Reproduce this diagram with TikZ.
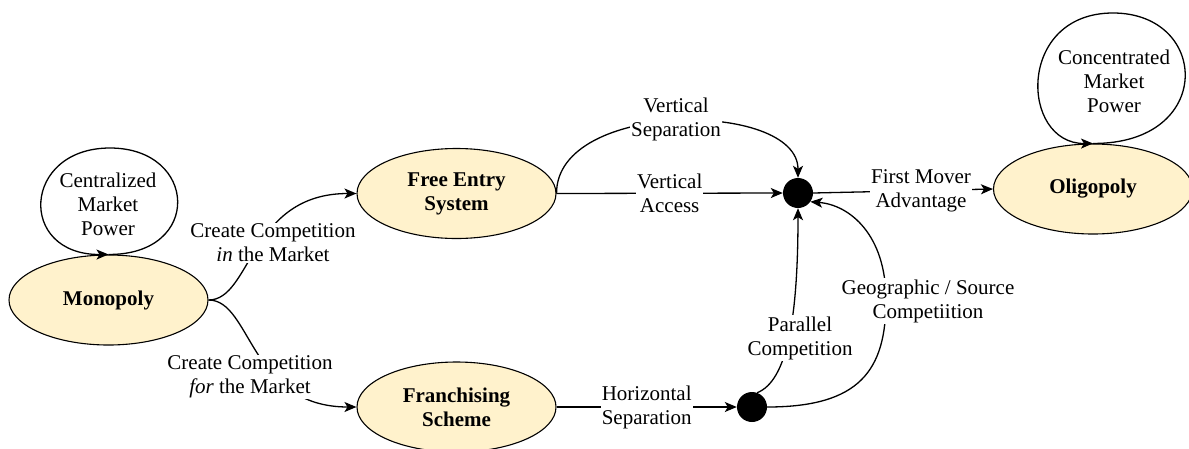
\documentclass[tikz,border=0pt]{standalone}
\usepackage{fontspec}
\setmainfont{Liberation Serif}
\usetikzlibrary{shapes.geometric,arrows.meta}
\definecolor{statefill}{HTML}{FFF2CC}
\tikzset{
  state/.style={ellipse, draw, line width=1.1pt, fill=statefill, minimum width=199pt,
    minimum height=90pt, inner sep=0pt, align=center, font=\fontsize{21}{24}\selectfont\bfseries},
  hub/.style={circle, fill=black, minimum size=30pt, inner sep=0pt},
  lbl/.style={fill=white, inner sep=1pt, align=center},
  note/.style={inner sep=0pt, align=center},
  arr/.style={-{Stealth[length=12pt,width=10pt,inset=3pt]}, line width=1.3pt},
}
\begin{document}
\begin{tikzpicture}[x=1pt, y=-1pt, font=\fontsize{21}{24}\selectfont]
\useasboundingbox (0,0) rectangle (1189,448);

% market structures
\node[state] (mono) at (108.5,300) {Monopoly};
\node[state] (free) at (456.5,193.5) {Free Entry\\System};
\node[state] (fran) at (456.5,407) {Franchising\\Scheme};
\node[state] (oli) at (1093,189) {Oligopoly};

% junction points
\node[hub] (d1) at (798,193) {};
\node[hub] (d2) at (752,407) {};

% self loops
\draw[arr] (mono.north) .. controls (203,255) and (198,148) .. (110,148)
  .. controls (22,148) and (17,255) .. (mono.north);
\node[note] (cmp) at (108,204) {Centralized\\Market\\Power};

\draw[arr] (oli.north) .. controls (1215,144) and (1210,13) .. (1113,13)
  .. controls (1016,13) and (1020,144) .. (oli.north);
\node[note] (kmp) at (1114,81) {Concentrated\\Market\\Power};

% competition branches
\draw[arr] (mono.east) .. controls +(43,0) and +(-107,0) .. (free.west);
\draw[arr] (mono.east) .. controls +(43,0) and +(-107,0) .. (fran.west);

% separation and access
\draw[arr] (free.east) .. controls (556,100) and (798,100) .. (d1.north);
\draw[arr] (free.east) -- node[lbl] (va) {Vertical\\Access} (d1.west);
\draw[arr] (fran.east) -- node[lbl] (hs) {Horizontal\\Separation} (d2.west);

% from the lower junction to the upper one
\draw[arr] (d2.70) .. controls +(30,-12) and +(0,110) .. (d1.south);
\coordinate (gs) at (886,300);
\draw[arr] (d2.east) .. controls (860,407) and (886,370) .. (gs)
  .. controls (886,235) and (850,205) .. (d1.-35);

\draw[arr] (d1.east) -- node[lbl, pos=0.6] (fm) {First Mover\\Advantage} (oli.west);

% edge labels
\node[lbl] (cin) at (273,243) {Create Competition\\\textit{in} the Market};
\node[lbl] (cfor) at (250,377) {Create Competition\\\textit{for} the Market};
\node[lbl] (vs) at (676,119) {Vertical\\Separation};
\node[lbl] (pc) at (800,338) {Parallel\\Competition};
\node[lbl] (gc) at (928,301) {Geographic / Source\\Competiition};
\end{tikzpicture}
\end{document}
